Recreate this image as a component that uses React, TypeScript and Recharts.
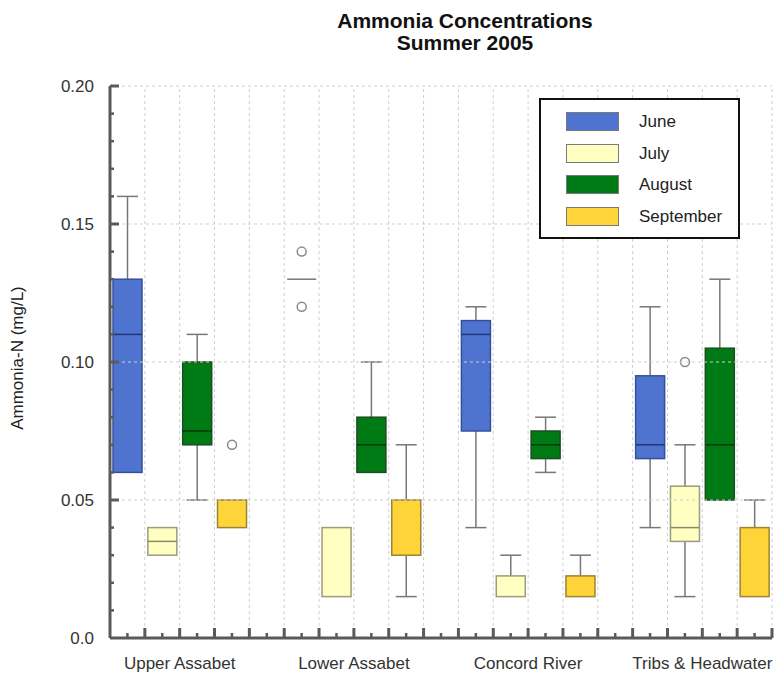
import React from 'react';
import { ComposedChart, Bar, XAxis, YAxis, ReferenceLine } from 'recharts';

// ---------- data ----------
const sites = ['Upper Assabet', 'Lower Assabet', 'Concord River', 'Tribs & Headwater'];
const months = ['June', 'July', 'August', 'September'];

type Stat = { low: number; q1: number; median: number; q3: number; high: number; outliers: number[] };

// one entry per site, in the order of `sites`
const juneStats: Stat[] = [
  { low: 0.06, q1: 0.06, median: 0.11, q3: 0.13, high: 0.16, outliers: [] },
  { low: 0.13, q1: 0.13, median: 0.13, q3: 0.13, high: 0.13, outliers: [0.12, 0.14] },
  { low: 0.04, q1: 0.075, median: 0.11, q3: 0.115, high: 0.12, outliers: [] },
  { low: 0.04, q1: 0.065, median: 0.07, q3: 0.095, high: 0.12, outliers: [] },
];
const julyStats: Stat[] = [
  { low: 0.03, q1: 0.03, median: 0.035, q3: 0.04, high: 0.04, outliers: [] },
  { low: 0.015, q1: 0.015, median: 0.015, q3: 0.04, high: 0.04, outliers: [] },
  { low: 0.015, q1: 0.015, median: 0.015, q3: 0.0225, high: 0.03, outliers: [] },
  { low: 0.015, q1: 0.035, median: 0.04, q3: 0.055, high: 0.07, outliers: [0.1] },
];
const augustStats: Stat[] = [
  { low: 0.05, q1: 0.07, median: 0.075, q3: 0.1, high: 0.11, outliers: [] },
  { low: 0.06, q1: 0.06, median: 0.07, q3: 0.08, high: 0.1, outliers: [] },
  { low: 0.06, q1: 0.065, median: 0.07, q3: 0.075, high: 0.08, outliers: [] },
  { low: 0.05, q1: 0.05, median: 0.07, q3: 0.105, high: 0.13, outliers: [] },
];
const septemberStats: Stat[] = [
  { low: 0.04, q1: 0.04, median: 0.04, q3: 0.05, high: 0.05, outliers: [0.07] },
  { low: 0.015, q1: 0.03, median: 0.03, q3: 0.05, high: 0.07, outliers: [] },
  { low: 0.015, q1: 0.015, median: 0.015, q3: 0.0225, high: 0.03, outliers: [] },
  { low: 0.015, q1: 0.015, median: 0.015, q3: 0.04, high: 0.05, outliers: [] },
];

const yMajorTicks = [0, 0.05, 0.1, 0.15, 0.2];
const yTickLabels = ['0.0', '0.05', '0.10', '0.15', '0.20'];
const yAllTicks = [0, 0.01, 0.02, 0.03, 0.04, 0.05, 0.06, 0.07, 0.08, 0.09, 0.1, 0.11, 0.12, 0.13, 0.14, 0.15, 0.16, 0.17, 0.18, 0.19, 0.2];

// ---------- styles ----------
const FONT = "'Liberation Sans', Arial, Helvetica, sans-serif";
const monthFill = ['#4f74cf', '#ffffc2', '#007a14', '#ffd438'];
const monthStroke = ['#35509a', '#9c9c7c', '#1e4d22', '#9a8535'];
const monthMedian = ['#1f3575', '#8a8a6a', '#003a08', '#7a6520'];
const axisColor = '#5a5a5a';
const gridColor = '#cfcfcf';
const whiskerColor = '#777777';

// ---------- derived table ----------
const monthStats = [juneStats, julyStats, augustStats, septemberStats];
const SLOTS_PER_SITE = months.length + 1;
const SLOT_COUNT = sites.length * SLOTS_PER_SITE - 1;

const rows: any[] = [];
sites.forEach((_, si) => {
  months.forEach((__, mi) => {
    const s = monthStats[mi][si];
    const all = [s.low, s.high, ...s.outliers];
    rows.push({
      slot: si * SLOTS_PER_SITE + mi + 0.5,
      month: mi,
      stat: s,
      range: [Math.min(...all), Math.max(...all)],
    });
  });
});

const xTicks: number[] = [];
for (let i = 0; i <= SLOT_COUNT * 2; i++) xTicks.push(i / 2);
const siteLabelSlots = sites.map((_, i) => i * SLOTS_PER_SITE + 2);
const xGrid: number[] = [];
for (let i = 1; i <= SLOT_COUNT; i++) xGrid.push(i);

// ---------- renderers ----------
const XTick = (props: any) => {
  const { x, y, payload } = props;
  const v = payload.value;
  const isMajor = Math.abs(v - Math.round(v)) < 1e-6;
  const si = siteLabelSlots.indexOf(v);
  return (
    <g>
      {v > 0 && (
        <line x1={x} y1={y} x2={x} y2={y - (isMajor ? 10 : 5)} stroke={axisColor} strokeWidth={isMajor ? 3 : 2.5} />
      )}
      {si >= 0 && (
        <text x={x} y={y + 31} textAnchor="middle" fontFamily={FONT} fontSize={17} fill="#333">
          {sites[si]}
        </text>
      )}
    </g>
  );
};

const YTick = (props: any) => {
  const { x, y, payload } = props;
  const v = payload.value;
  const mi = yMajorTicks.findIndex((m) => Math.abs(m - v) < 1e-9);
  return (
    <g>
      {v > 0 && (
        <line x1={x} y1={y} x2={x + (mi >= 0 ? 9 : 4)} y2={y} stroke={axisColor} strokeWidth={mi >= 0 ? 3 : 2.5} />
      )}
      {mi >= 0 && (
        <text x={x - 16} y={y} dy="0.36em" textAnchor="end" fontFamily={FONT} fontSize={17} fill="#333">
          {yTickLabels[mi]}
        </text>
      )}
    </g>
  );
};

const BoxShape = (props: any) => {
  const { x, y, width, height, payload } = props;
  if (!payload || !payload.stat) return null;
  const s: Stat = payload.stat;
  const [lo, hi] = payload.range;
  const top = Math.min(y, y + height);
  const h = Math.abs(height);
  const py = (v: number) => top + ((hi - v) / (hi - lo)) * h;
  const cx = x + width / 2;
  const cap = 10.5;
  const m = payload.month;
  return (
    <g>
      {s.high > s.q3 && (
        <g stroke={whiskerColor} strokeWidth={1.5}>
          <line x1={cx} x2={cx} y1={py(s.high)} y2={py(s.q3)} />
          <line x1={cx - cap} x2={cx + cap} y1={py(s.high)} y2={py(s.high)} />
        </g>
      )}
      {s.low < s.q1 && (
        <g stroke={whiskerColor} strokeWidth={1.5}>
          <line x1={cx} x2={cx} y1={py(s.low)} y2={py(s.q1)} />
          <line x1={cx - cap} x2={cx + cap} y1={py(s.low)} y2={py(s.low)} />
        </g>
      )}
      {s.q3 > s.q1 ? (
        <rect
          x={x}
          y={py(s.q3)}
          width={width}
          height={py(s.q1) - py(s.q3)}
          fill={monthFill[m]}
          stroke={monthStroke[m]}
          strokeWidth={1.5}
        />
      ) : (
        <line x1={x} x2={x + width} y1={py(s.median)} y2={py(s.median)} stroke={whiskerColor} strokeWidth={1.5} />
      )}
      {s.median > s.q1 && s.median < s.q3 && (
        <line x1={x} x2={x + width} y1={py(s.median)} y2={py(s.median)} stroke={monthMedian[m]} strokeWidth={1.5} />
      )}
      {s.outliers.map((o, i) => (
        <circle key={i} cx={cx} cy={py(o)} r={4.5} fill="#fff" stroke="#8a8a8a" strokeWidth={1.5} />
      ))}
    </g>
  );
};

export default function App() {
  return (
    <div style={{ position: 'absolute', left: 0, top: 0, width: 778, height: 673, overflow: 'hidden', background: '#fff' }}>
      <div
        style={{
          position: 'absolute',
          left: 265,
          top: 10,
          width: 400,
          textAlign: 'center',
          fontFamily: FONT,
          fontWeight: 'bold',
          fontSize: 21,
          lineHeight: '22px',
          color: '#111',
        }}
      >
        <div>Ammonia Concentrations</div>
        <div>Summer 2005</div>
      </div>
      <div
        style={{
          position: 'absolute',
          left: 18,
          top: 358,
          transform: 'translate(-50%, -50%) rotate(-90deg)',
          whiteSpace: 'nowrap',
          fontFamily: FONT,
          fontSize: 17,
          color: '#222',
        }}
      >
        Ammonia-N (mg/L)
      </div>
      <ComposedChart
        width={778}
        height={673}
        data={rows}
        margin={{ top: 86, right: 6, bottom: 0, left: 0 }}
        style={{ position: 'absolute', left: 0, top: 0 }}
      >
        {yMajorTicks
          .filter((v) => v > 0)
          .map((v) => (
            <ReferenceLine key={'h' + v} y={v} stroke={gridColor} strokeDasharray="3 3" strokeWidth={1} />
          ))}
        {xGrid.map((v) => (
          <ReferenceLine key={'v' + v} x={v} stroke={gridColor} strokeDasharray="3 3" strokeWidth={1} />
        ))}
        <XAxis
          dataKey="slot"
          type="number"
          domain={[0, SLOT_COUNT]}
          ticks={xTicks}
          interval={0}
          height={35}
          tickSize={0}
          tickMargin={0}
          tickLine={false}
          axisLine={{ stroke: axisColor, strokeWidth: 3 }}
          tick={<XTick />}
        />
        <YAxis
          type="number"
          domain={[0, 0.2]}
          ticks={yAllTicks}
          interval={0}
          width={110}
          tickSize={0}
          tickMargin={0}
          tickLine={false}
          axisLine={{ stroke: axisColor, strokeWidth: 3 }}
          tick={<YTick />}
        />
        <Bar dataKey="range" barSize={29} shape={<BoxShape />} isAnimationActive={false} />
      </ComposedChart>
      <div
        style={{
          position: 'absolute',
          left: 539,
          top: 98,
          width: 201,
          height: 141,
          boxSizing: 'border-box',
          border: '2px solid #111',
          background: '#fff',
          paddingTop: 12,
          paddingLeft: 25,
          fontFamily: FONT,
          fontSize: 17,
          color: '#222',
        }}
      >
        {months.map((m, i) => (
          <div key={m} style={{ display: 'flex', alignItems: 'center', height: 19, marginBottom: 12.5 }}>
            <div
              style={{
                width: 53,
                height: 19,
                boxSizing: 'border-box',
                background: monthFill[i],
                border: '1.5px solid #7a7a7a',
              }}
            />
            <span style={{ marginLeft: 20, lineHeight: '19px' }}>{m}</span>
          </div>
        ))}
      </div>
    </div>
  );
}
